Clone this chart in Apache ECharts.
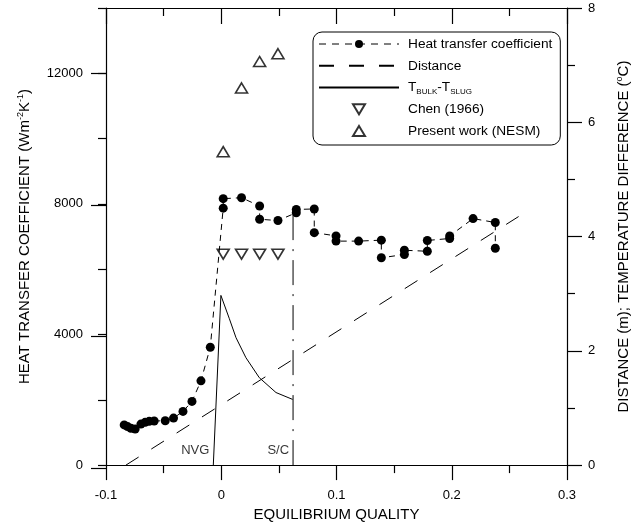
<!DOCTYPE html>
<html>
<head>
<meta charset="utf-8">
<script src="https://cdn.jsdelivr.net/npm/echarts@6/dist/echarts.min.js"></script>
<style>
html, body { margin: 0; padding: 0; background: #fff; }
#main { width: 644px; height: 527px; }
</style>
</head>
<body>
<div id="main"></div>
<script>
// heat transfer coefficient (left axis), measured points in plotting order
var htcQuality = [-0.0842, -0.0813, -0.0784, -0.0747, -0.0697, -0.066, -0.0625, -0.0582, -0.0486, -0.0414, -0.0332, -0.0254, -0.0176, -0.0095,
    0.0017, 0.0017, 0.0176, 0.0333, 0.0333, 0.0492, 0.0651, 0.0651, 0.0807, 0.0807, 0.0996, 0.0996, 0.1192, 0.1389, 0.1389,
    0.1589, 0.1589, 0.1788, 0.1788, 0.1982, 0.1982, 0.2185, 0.2378, 0.2378]
var htcValue = [1230, 1180, 1130, 1105, 1255, 1310, 1340, 1350, 1360, 1440, 1645, 1950, 2580, 3610,
    7870, 8160, 8190, 7935, 7530, 7490, 7730, 7830, 7845, 7120, 7020, 6860, 6860, 6890, 6350,
    6450, 6580, 6550, 6880, 6940, 7020, 7550, 7430, 6640]

// Chen (1966) and present work (NESM) predictions
var predQuality = [0.0017, 0.0176, 0.0333, 0.0492]
var chenValue = [6460, 6460, 6460, 6460]
var nesmValue = [9600, 11550, 12360, 12600]

// distance (right axis)
var distQuality = [-0.0827, 0.258]
var distValue = [0, 4.35]

// T_bulk - T_slug (right axis)
var tQuality = [-0.0069, -0.0003, 0.0069, 0.0128, 0.0214, 0.033, 0.0475, 0.0619]
var tValue = [0, 2.97, 2.57, 2.23, 1.88, 1.53, 1.27, 1.15]

// S/C marker line (left axis)
var scQuality = [0.0623, 0.0623]
var scValue = [0, 7800]

// text markers
var noteName = ['NVG', 'S/C']
var noteQuality = [-0.0069, 0.0623]
var noteValue = [460, 460]

var FONT = "'Liberation Sans', Arial, sans-serif"
var T_NAME = 'TBULK-TSLUG'

function zip(a, b) {
    return a.map(function (v, i) { return [v, b[i]] })
}

var axisLine = { onZero: false, lineStyle: { color: '#000', width: 1.2 } }
var tickLine = { color: '#000', width: 1.2 }

var myChart = echarts.init(document.getElementById('main'))
var option = {
    animation: false,
    backgroundColor: '#fff',
    textStyle: { fontFamily: FONT },
    grid: [
        { left: 106, right: 77, top: 8, bottom: 59 },
        // second grid only carries the long ticks of the left axis (0..12000)
        { left: 106, right: 77, top: 73.71, bottom: 59 }
    ],
    legend: {
        orient: 'vertical',
        left: 313,
        top: 32,
        padding: [4, 8, 6, 5],
        itemWidth: 80,
        itemHeight: 10,
        itemGap: 5.75,
        borderColor: '#000',
        borderWidth: 1,
        borderRadius: 9,
        data: [
            { name: 'Heat transfer coefficient', lineStyle: { color: '#000', type: [7, 6], width: 1 } },
            { name: 'Distance', itemStyle: { opacity: 0 } },
            { name: T_NAME, itemStyle: { opacity: 0 } },
            'Chen (1966)',
            'Present work (NESM)'
        ],
        formatter: function (name) {
            if (name === T_NAME) return '{n|T}{s|BULK}{n|-T}{s|SLUG}'
            return name
        },
        textStyle: {
            fontSize: 13.7,
            lineHeight: 16,
            color: '#000',
            fontFamily: FONT,
            padding: [0, 0, 0, 4],
            rich: {
                n: { fontSize: 13.7, lineHeight: 16, color: '#000', fontFamily: FONT },
                s: { fontSize: 8, lineHeight: 9, verticalAlign: 'bottom', color: '#000', fontFamily: FONT }
            }
        }
    },
    xAxis: [
        {
            gridIndex: 0, type: 'value', position: 'bottom',
            min: -0.1, max: 0.3, interval: 0.1,
            axisLine: axisLine,
            axisTick: { length: 15, lineStyle: tickLine },
            minorTick: { show: true, splitNumber: 2, length: 8, lineStyle: tickLine },
            splitLine: { show: false },
            axisLabel: { margin: 24, fontSize: 13, color: '#000', fontFamily: FONT },
            name: 'EQUILIBRIUM QUALITY',
            nameLocation: 'middle',
            nameGap: 41,
            nameTextStyle: { fontSize: 15, color: '#000', fontFamily: FONT }
        },
        {
            gridIndex: 0, type: 'value', position: 'top',
            min: -0.1, max: 0.3, interval: 0.1,
            axisLine: axisLine,
            axisTick: { inside: true, length: 16, lineStyle: tickLine },
            minorTick: { show: true, splitNumber: 2, length: 8, lineStyle: tickLine },
            splitLine: { show: false },
            axisLabel: { show: false }
        },
        {
            gridIndex: 1, type: 'value', min: -0.1, max: 0.3, show: false
        }
    ],
    yAxis: [
        {
            gridIndex: 0, type: 'value', position: 'left',
            min: 0, max: 14000, interval: 2000,
            axisLine: axisLine,
            axisTick: { length: 8, lineStyle: tickLine },
            splitLine: { show: false },
            axisLabel: {
                margin: 23, fontSize: 13, color: '#000', fontFamily: FONT,
                formatter: function (v) { return v % 4000 === 0 ? String(v) : '' }
            },
            name: '{n|HEAT TRANSFER COEFFICIENT (Wm}{p|-2}{n|K}{p|-1}{n|)}',
            nameLocation: 'middle',
            nameGap: 72,
            nameTextStyle: {
                rich: {
                    n: { fontSize: 15, lineHeight: 18, color: '#000', fontFamily: FONT },
                    p: { fontSize: 9, lineHeight: 10, verticalAlign: 'top', color: '#000', fontFamily: FONT }
                }
            }
        },
        {
            gridIndex: 0, type: 'value', position: 'right',
            min: 0, max: 8, interval: 2,
            axisLine: axisLine,
            axisTick: { length: 15, lineStyle: tickLine },
            minorTick: { show: true, splitNumber: 2, length: 8, lineStyle: tickLine },
            splitLine: { show: false },
            axisLabel: { margin: 21, fontSize: 13, color: '#000', fontFamily: FONT },
            name: '{n|DISTANCE (m); TEMPERATURE DIFFERENCE (}{p|o}{n|C)}',
            nameLocation: 'middle',
            nameGap: 48,
            nameTextStyle: {
                rich: {
                    n: { fontSize: 15, lineHeight: 18, color: '#000', fontFamily: FONT },
                    p: { fontSize: 9, lineHeight: 10, verticalAlign: 'top', color: '#000', fontFamily: FONT }
                }
            }
        },
        {
            gridIndex: 1, type: 'value', position: 'left',
            min: 0, max: 12000, interval: 4000,
            axisLine: { show: false, onZero: false },
            axisTick: { length: 15, lineStyle: tickLine },
            splitLine: { show: false },
            axisLabel: { show: false }
        }
    ],
    series: [
        {
            name: 'Heat transfer coefficient',
            type: 'line',
            xAxisIndex: 0, yAxisIndex: 0,
            data: zip(htcQuality, htcValue),
            symbol: 'circle',
            symbolSize: 9,
            itemStyle: { color: '#000' },
            lineStyle: { color: '#000', width: 1, type: [6, 5] },
            z: 5
        },
        {
            name: 'Distance',
            type: 'line',
            xAxisIndex: 0, yAxisIndex: 1,
            data: zip(distQuality, distValue),
            symbol: 'none',
            itemStyle: { color: '#000' },
            lineStyle: { color: '#000', width: 1, type: [15, 15] }
        },
        {
            name: T_NAME,
            type: 'line',
            xAxisIndex: 0, yAxisIndex: 1,
            data: zip(tQuality, tValue),
            symbol: 'none',
            itemStyle: { color: '#000' },
            lineStyle: { color: '#000', width: 1 }
        },
        {
            name: 'Chen (1966)',
            type: 'scatter',
            xAxisIndex: 0, yAxisIndex: 0,
            data: zip(predQuality, chenValue),
            symbol: 'path://M0,0L12,0L6,10Z',
            symbolSize: [12, 10],
            itemStyle: { color: '#fff', borderColor: '#000', borderWidth: 1.6 }
        },
        {
            name: 'Present work (NESM)',
            type: 'scatter',
            xAxisIndex: 0, yAxisIndex: 0,
            data: zip(predQuality, nesmValue),
            symbol: 'path://M6,0L12,10L0,10Z',
            symbolSize: [12, 10],
            itemStyle: { color: '#fff', borderColor: '#000', borderWidth: 1.6 }
        },
        {
            name: 'S/C line',
            type: 'line',
            xAxisIndex: 0, yAxisIndex: 0,
            data: zip(scQuality, scValue),
            symbol: 'none',
            lineStyle: { color: '#000', width: 1, type: [25, 9, 2, 9] }
        },
        {
            name: 'notes',
            type: 'scatter',
            xAxisIndex: 0, yAxisIndex: 0,
            data: noteName.map(function (n, i) { return { name: n, value: [noteQuality[i], noteValue[i]] } }),
            symbolSize: 0,
            label: {
                show: true, position: 'left', distance: 4,
                formatter: '{b}', fontSize: 13, color: '#000', fontFamily: FONT
            }
        }
    ]
}
myChart.setOption(option)
</script>
</body>
</html>
